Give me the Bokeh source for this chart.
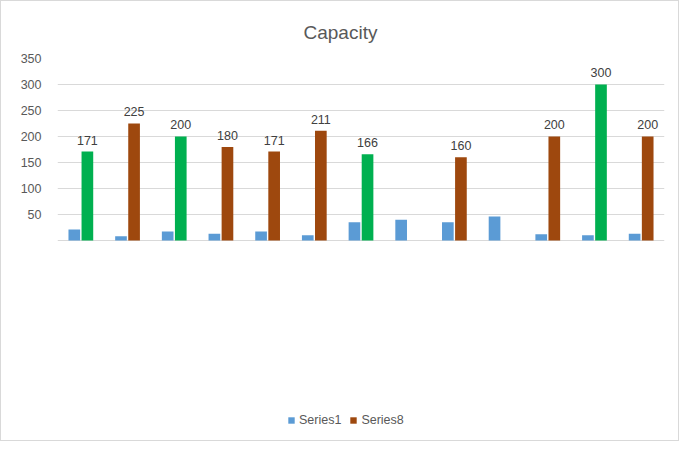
import numpy as np
from bokeh.plotting import figure
from bokeh.models import ColumnDataSource, FixedTicker, Range1d, Legend, LegendItem
from bokeh.transform import dodge
from bokeh.embed import file_html
from bokeh.resources import INLINE

# chart data
categories = list(range(1, 14))
series1 = [21, 8, 17, 13, 17, 10, 35, 40, 35, 46, 12, 10, 13]
series8 = [171, 225, 200, 180, 171, 211, 166, np.nan, 160, np.nan, 200, 300, 200]
series8_colors = ["#00B050", "#9E480E", "#00B050", "#9E480E", "#9E480E", "#9E480E",
                  "#00B050", "#9E480E", "#9E480E", "#9E480E", "#9E480E", "#00B050",
                  "#9E480E"]
y_ticks = [0, 50, 100, 150, 200, 250, 300, 350]

FONT = "Liberation Sans"
TEXT_GREY = "#595959"

source = ColumnDataSource(data=dict(
    x=categories,
    s1=series1,
    s8=series8,
    color=series8_colors,
    lbl=["" if np.isnan(v) else str(int(v)) for v in series8],
))

p = figure(width=679, height=441, output_backend="svg", toolbar_location=None,
           x_range=Range1d(0.5, 13.5), y_range=Range1d(-379, 350),
           min_border_left=56, min_border_right=16, min_border_top=57,
           min_border_bottom=5)
p.outline_line_color = None
p.styles = {"border": "1px solid #D9D9D9", "box-sizing": "border-box"}

# title
p.title.text = "Capacity"
p.title.align = "left"
p.title.offset = 246
p.title.standoff = 32
p.title.text_font = FONT
p.title.text_font_size = "19px"
p.title.text_font_style = "normal"
p.title.text_color = TEXT_GREY

# axes and grid
p.xaxis.visible = False
p.xgrid.grid_line_color = None
p.yaxis.ticker = FixedTicker(ticks=y_ticks)
p.yaxis.major_label_overrides = {0: ""}
p.yaxis.axis_line_color = None
p.yaxis.major_tick_line_color = None
p.yaxis.minor_tick_line_color = None
p.yaxis.major_label_standoff = 10
p.yaxis.major_label_text_font = FONT
p.yaxis.major_label_text_font_size = "12.5px"
p.yaxis.major_label_text_color = TEXT_GREY
p.ygrid.grid_line_color = "#D9D9D9"
p.ygrid.ticker = FixedTicker(ticks=y_ticks)

# bars
r1 = p.vbar(x=dodge("x", -0.14), top="s1", width=0.25, source=source,
            fill_color="#5B9BD5", line_color=None)
r8 = p.vbar(x=dodge("x", 0.14), top="s8", width=0.25, source=source,
            fill_color="color", line_color=None)

# data labels on Series8
p.text(x=dodge("x", 0.14), y="s8", text="lbl", source=source,
       text_align="center", text_baseline="bottom", y_offset=-7,
       text_font_size="12.5px", text_color="#404040",
       text_font={"value": FONT})

legend = Legend(items=[LegendItem(label="Series1", renderers=[r1]),
                       LegendItem(label="Series8", renderers=[r8], index=1)],
                orientation="horizontal", location=(230, 10),
                padding=0, margin=0, spacing=8, glyph_width=8, glyph_height=8,
                label_standoff=4, label_height=12, label_text_font=FONT,
                label_text_font_size="12.5px", label_text_color=TEXT_GREY,
                border_line_color=None, background_fill_alpha=0)
p.add_layout(legend, "center")

open("out.html", "w").write(file_html(p, INLINE))
